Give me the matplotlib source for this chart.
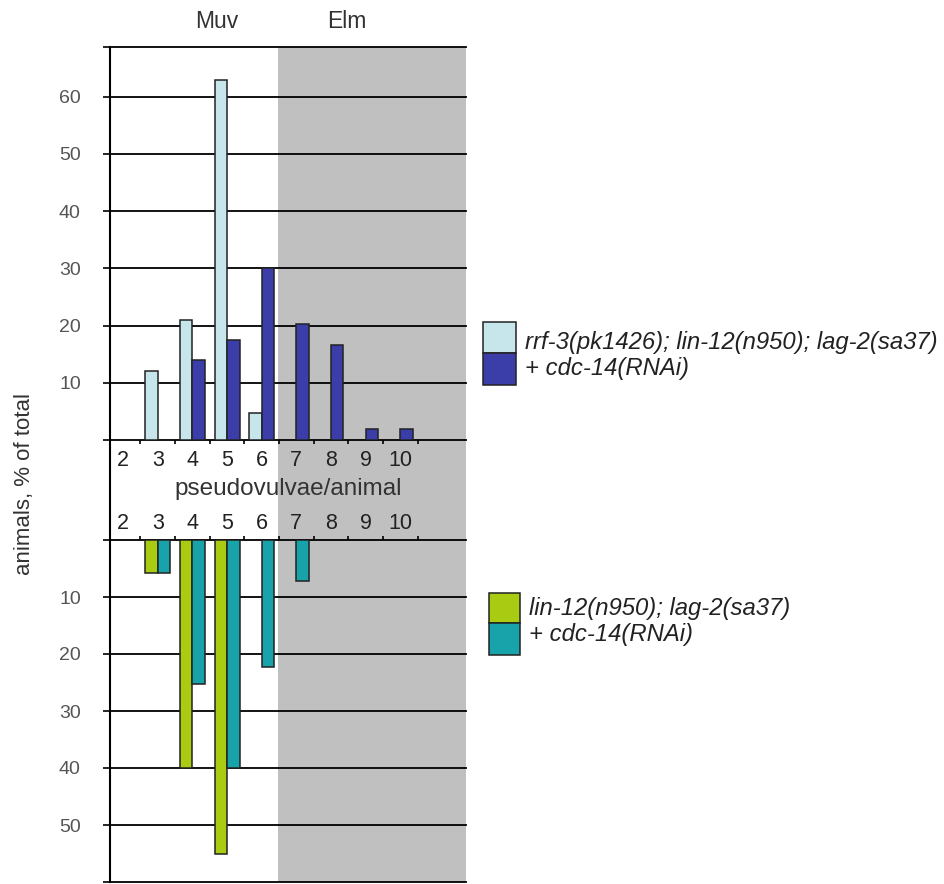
import matplotlib
matplotlib.use('Agg')
import matplotlib.pyplot as plt
from matplotlib.patches import Rectangle
import numpy as np

# pseudovulvae per animal
categories = [2, 3, 4, 5, 6, 7, 8, 9, 10]

# upper panel, % of animals
rrf3_lin12_lag2 = [0, 12, 21, 63, 4.7, 0, 0, 0, 0]
rrf3_cdc14 = [0, 0, 14, 17.5, 30, 20.3, 16.6, 1.9, 1.9]

# lower panel, % of animals (drawn downwards)
lin12_lag2 = [0, 5.8, 40, 55, 0, 0, 0, 0, 0]
lin12_cdc14 = [0, 5.8, 25.3, 40, 22.3, 7.2, 0, 0, 0]

top_ticks = [0, 10, 20, 30, 40, 50, 60]
bottom_ticks = [0, 10, 20, 30, 40, 50]

legend_top = ['rrf-3(pk1426); lin-12(n950); lag-2(sa37)', '+ cdc-14(RNAi)']
legend_bottom = ['lin-12(n950); lag-2(sa37)', '+ cdc-14(RNAi)']

W, H = 944, 884
C_LIGHT = '#c6e6eb'
C_DARK = '#3b3ea8'
C_GREEN = '#a9cc12'
C_TEAL = '#18a3aa'
C_GRAY = '#c0c0c0'
XMIN, XMAX = 1.62, 11.9
ELM_START = 6.47
BAR_W = 0.36

plt.rcParams['font.family'] = ['Liberation Sans', 'DejaVu Sans']


def rect(x0, y0, x1, y1):
    # pixel box (top-left origin) -> figure fraction
    return [x0 / W, 1 - y1 / H, (x1 - x0) / W, (y1 - y0) / H]


def draw_bars(ax, values, offset, color):
    x = np.array(categories, dtype=float) + offset
    v = np.array(values, dtype=float)
    keep = v > 0
    ax.bar(x[keep], v[keep], width=BAR_W, color=color, edgecolor='#222222',
           linewidth=1.1, zorder=3)


def style_panel(ax, ymax_tick, ticks, ylim):
    ax.set_facecolor('none')
    for s in ax.spines.values():
        s.set_visible(False)
    ax.set_xlim(XMIN, XMAX)
    ax.set_ylim(*ylim)
    ax.set_yticks(ticks + [ymax_tick])
    ax.set_yticklabels([''] + [str(t) for t in ticks[1:]] + [''])
    ax.tick_params(axis='y', direction='out', length=5, width=1.2,
                   pad=16, labelsize=14, labelcolor='#555555')
    ax.yaxis.grid(True, color='black', linewidth=1.3)
    for gl in ax.yaxis.get_gridlines():
        gl.set_clip_on(False)
    ax.set_axisbelow(True)
    ax.set_xticks([c + 0.5 for c in categories])
    ax.set_xticklabels([])
    ax.set_xticks(categories, minor=True)
    ax.set_xticklabels([str(c) for c in categories], minor=True)
    ax.tick_params(axis='x', which='major', direction='out', length=3, width=1.2)
    ax.tick_params(axis='x', which='minor', length=0, labelsize=15.5,
                   labelcolor='#222222')


def main():
    fig = plt.figure(figsize=(W / 100, H / 100), dpi=100)

    # shared background: white Muv zone, gray Elm zone, y axis line
    ax_bg = fig.add_axes(rect(110, 47, 466, 882))
    ax_bg.set_xlim(XMIN, XMAX)
    ax_bg.set_ylim(0, 1)
    ax_bg.axvspan(ELM_START, XMAX, color=C_GRAY, lw=0)
    for name, s in ax_bg.spines.items():
        s.set_visible(name == 'left')
    ax_bg.spines['left'].set_linewidth(1.5)
    ax_bg.set_xticks([])
    ax_bg.set_yticks([])

    # upper panel
    ax_t = fig.add_axes(rect(110, 47, 466, 440))
    style_panel(ax_t, 68.7, top_ticks, (0, 68.7))
    ax_t.tick_params(axis='x', which='minor', pad=7)
    draw_bars(ax_t, rrf3_lin12_lag2, -BAR_W / 2, C_LIGHT)
    draw_bars(ax_t, rrf3_cdc14, BAR_W / 2, C_DARK)
    ax_t.set_xlabel('pseudovulvae/animal', fontsize=17.5, color='#333333',
                    labelpad=5)
    ax_t.text(4.71, 1.064, 'Muv', transform=ax_t.get_xaxis_transform(),
              ha='center', va='center', fontsize=16.5, color='#333333')
    ax_t.text(8.47, 1.064, 'Elm', transform=ax_t.get_xaxis_transform(),
              ha='center', va='center', fontsize=16.5, color='#333333')

    # lower panel
    ax_b = fig.add_axes(rect(110, 540, 466, 882))
    style_panel(ax_b, 60, bottom_ticks, (60, 0))
    ax_b.xaxis.tick_top()
    ax_b.tick_params(axis='x', which='minor', pad=4)
    draw_bars(ax_b, lin12_lag2, -BAR_W / 2, C_GREEN)
    draw_bars(ax_b, lin12_cdc14, BAR_W / 2, C_TEAL)

    fig.text(25 / W, 1 - 484 / H, 'animals, % of total', rotation=90,
             ha='center', va='center', fontsize=16, color='#333333')

    # legends
    for (x0, y0, x1, y1, col) in [(483, 322, 516, 353, C_LIGHT),
                                  (483, 353, 516, 385, C_DARK),
                                  (489, 593, 520, 623, C_GREEN),
                                  (489, 623, 520, 655, C_TEAL)]:
        r = rect(x0, y0, x1, y1)
        fig.add_artist(Rectangle((r[0], r[1]), r[2], r[3], transform=fig.transFigure,
                                 facecolor=col, edgecolor='#222222', linewidth=1.1))
    for label, y in zip(legend_top, [342, 368]):
        fig.text(525 / W, 1 - y / H, label, ha='left', va='center',
                 fontsize=17.2, style='italic', color='#222222')
    for label, y in zip(legend_bottom, [608, 634]):
        fig.text(529 / W, 1 - y / H, label, ha='left', va='center',
                 fontsize=17.2, style='italic', color='#222222')

    fig.savefig('out.png', dpi=100)


if __name__ == "__main__":
    main()
